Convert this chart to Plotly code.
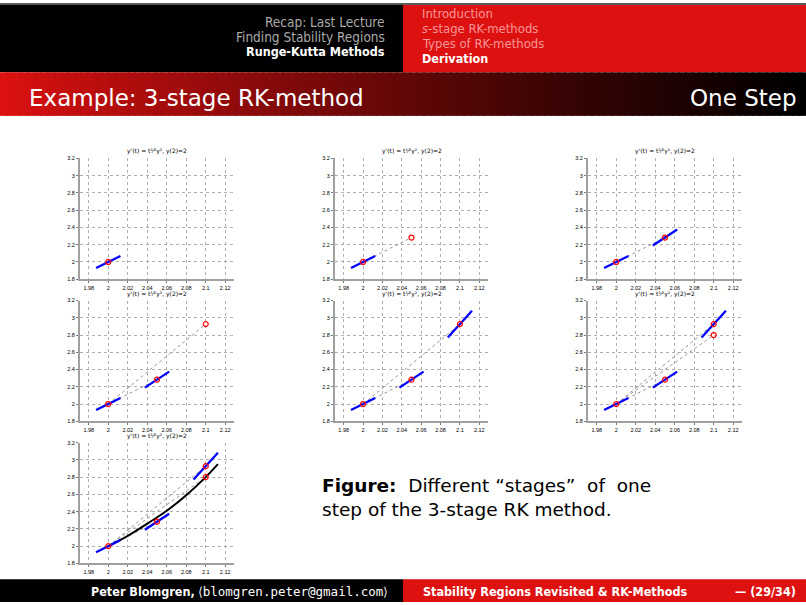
import plotly.graph_objects as go

# ---------------- data ----------------
t_ticks = [1.98, 2.0, 2.02, 2.04, 2.06, 2.08, 2.1, 2.12]
t_tick_text = ["1.98", "2", "2.02", "2.04", "2.06", "2.08", "2.1", "2.12"]
y_ticks = [1.8, 2.0, 2.2, 2.4, 2.6, 2.8, 3.0, 3.2]
y_tick_text = ["1.8", "2", "2.2", "2.4", "2.6", "2.8", "3", "3.2"]

stage_t = [2.0, 2.05, 2.1]
stage_y = [2.0, 2.283, 2.927]
final_t = 2.1
final_y = 2.80

tan1_t = [1.9875, 2.0125]
tan1_y = [1.930, 2.070]
tan2_t = [2.0375, 2.0625]
tan2_y = [2.190, 2.376]
tan3_t = [2.0875, 2.1125]
tan3_y = [2.772, 3.082]

exact_t = [2.0, 2.02, 2.04, 2.06, 2.08, 2.1, 2.1125]
exact_y = [2.0, 2.12, 2.26, 2.41, 2.59, 2.80, 2.95]

panel_title = "y'(t) = t¹⁄²y², y(2)=2"

# ---------------- layout helpers ----------------
W, H = 806, 605
def px(x):
    return x / W
def py(y):
    return 1 - y / H

cols = [(80, 234), (335, 488), (588, 742)]
rows = [(157, 279), (300.5, 422.5), (444, 566)]
slots = [(0, 0), (0, 1), (0, 2), (1, 0), (1, 1), (1, 2), (2, 0)]

RED = "rgb(222,17,17)"

fig = go.Figure()
shapes = []
annotations = []

# header
shapes.append(dict(type="rect", xref="paper", yref="paper", x0=0, x1=px(403), y0=py(70), y1=1,
                   fillcolor="black", line_width=0, layer="below"))
shapes.append(dict(type="rect", xref="paper", yref="paper", x0=px(403), x1=1, y0=py(70), y1=1,
                   fillcolor=RED, line_width=0, layer="below"))
shapes.append(dict(type="rect", xref="paper", yref="paper", x0=0, x1=1, y0=py(2), y1=1,
                   fillcolor="rgb(90,90,90)", line_width=0, layer="below"))
# gradient title bar
N = 120
for i in range(N):
    f = i / (N - 1)
    g = f ** 0.85
    r = int(222 * (1 - g))
    gg = int(17 * (1 - g))
    shapes.append(dict(type="rect", xref="paper", yref="paper",
                       x0=i / N, x1=(i + 1) / N + 0.002, y0=py(114), y1=py(70),
                       fillcolor=f"rgb({r},{gg},{gg})", line_width=0, layer="below"))
# footer
shapes.append(dict(type="rect", xref="paper", yref="paper", x0=0, x1=px(403), y0=0, y1=py(582),
                   fillcolor="black", line_width=0, layer="below"))
shapes.append(dict(type="rect", xref="paper", yref="paper", x0=px(403), x1=1, y0=0, y1=py(582),
                   fillcolor=RED, line_width=0, layer="below"))

HF = "DejaVu Sans Condensed, Liberation Sans Narrow, sans-serif"
def txt(x, y, s, size, color, xanchor="left", family=HF):
    annotations.append(dict(xref="paper", yref="paper", x=px(x), y=py(y), text=s, showarrow=False,
                            xanchor=xanchor, yanchor="middle",
                            font=dict(size=size, color=color, family=family)))

txt(387, 19, "Recap: Last Lecture", 13.5, "rgb(170,170,170)", "right")
txt(387, 34, "Finding Stability Regions", 13.5, "rgb(170,170,170)", "right")
txt(387, 49, "<b>Runge-Kutta Methods</b>", 12.5, "white", "right")
txt(420, 11, "Introduction", 13, "rgb(245,150,150)")
txt(420, 26, "<i>s</i>-stage RK-methods", 13, "rgb(245,150,150)")
txt(420, 41, "Types of RK-methods", 13, "rgb(245,150,150)")
txt(420, 56, "<b>Derivation</b>", 12.5, "white")
txt(27, 96, "Example: 3-stage RK-method", 23, "white", family="DejaVu Sans, sans-serif")
txt(799, 96, "One Step", 23, "white", "right", family="DejaVu Sans, sans-serif")
txt(240, 594, "<b>Peter Blomgren,</b> ⟨<span style='font-family:DejaVu Sans Mono'>blomgren.peter@gmail.com</span>⟩",
    12.5, "white", "center")
txt(421, 594, "<b>Stability Regions Revisited &amp; RK-Methods</b>", 12.5, "white")
txt(798, 594, "<b>— (29/34)</b>", 12.5, "white", "right")

CF = "DejaVu Sans, sans-serif"
txt(320, 487, "<b>Figure:</b>&nbsp;&nbsp;Different&nbsp;“stages”&nbsp; of&nbsp; one", 18.5, "black", family=CF)
txt(320, 512, "step of the 3-stage RK method.", 18.5, "black", family=CF)

# ---------------- panels ----------------
layout_axes = {}
for k, (r, c) in enumerate(slots):
    n = k + 1
    xa = "x" if n == 1 else f"x{n}"
    ya = "y" if n == 1 else f"y{n}"
    xname = "xaxis" if n == 1 else f"xaxis{n}"
    yname = "yaxis" if n == 1 else f"yaxis{n}"
    x0, x1 = cols[c]
    yt, yb = rows[r]
    common = dict(showgrid=True, gridcolor="rgb(175,175,175)", griddash="dot", gridwidth=0.8,
                  showline=True, linecolor="rgb(160,160,160)", linewidth=2,
                  ticks="outside", ticklen=2, tickcolor="rgb(120,120,120)",
                  tickfont=dict(size=5.5, color="black", family="Liberation Sans, sans-serif"),
                  zeroline=False, fixedrange=True)
    layout_axes[xname] = dict(domain=[px(x0), px(x1)], range=[1.971, 2.129], anchor=ya,
                              tickvals=t_ticks, ticktext=t_tick_text, **common)
    layout_axes[yname] = dict(domain=[py(yb), py(yt)], range=[1.8, 3.2], anchor=xa,
                              tickvals=y_ticks, ticktext=y_tick_text, **common)
    annotations.append(dict(xref="paper", yref="paper", x=px((x0 + x1) / 2), y=py(yt - 1),
                            text=panel_title, showarrow=False, xanchor="center", yanchor="bottom",
                            font=dict(size=6, color="black", family="DejaVu Sans, sans-serif")))

    def line(xs, ys, color, width, dash="solid", shape="linear"):
        fig.add_trace(go.Scatter(x=xs, y=ys, mode="lines", xaxis=xa, yaxis=ya, showlegend=False,
                                 line=dict(color=color, width=width, dash=dash, shape=shape),
                                 hoverinfo="skip"))

    grey = "rgb(120,120,120)"
    if n >= 2:
        line([stage_t[0], stage_t[1]], [stage_y[0], stage_y[1]], grey, 0.8, "dot")
    if n >= 4:
        line([stage_t[0], stage_t[2]], [stage_y[0], stage_y[2]], grey, 0.8, "dot")
    if n >= 6:
        line([stage_t[0], final_t], [stage_y[0], final_y], grey, 0.8, "dot")
    if n >= 7:
        line(exact_t, exact_y, "black", 2, "solid", "spline")
    line(tan1_t, tan1_y, "blue", 2.3)
    if n >= 3:
        line(tan2_t, tan2_y, "blue", 2.3)
    if n >= 5:
        line(tan3_t, tan3_y, "blue", 2.3)

    if n == 1:
        mt, my = stage_t[:1], stage_y[:1]
    elif n <= 3:
        mt, my = stage_t[:2], stage_y[:2]
    elif n <= 5:
        mt, my = stage_t[:3], stage_y[:3]
    else:
        mt, my = stage_t[:3] + [final_t], stage_y[:3] + [final_y]
    fig.add_trace(go.Scatter(x=mt, y=my, mode="markers", xaxis=xa, yaxis=ya, showlegend=False,
                             marker=dict(symbol="circle-open", size=5, color="red",
                                         line=dict(color="red", width=1.2)), hoverinfo="skip"))

fig.update_layout(width=W, height=H, margin=dict(l=0, r=0, t=0, b=0),
                  paper_bgcolor="white", plot_bgcolor="white",
                  shapes=shapes, annotations=annotations, showlegend=False, **layout_axes)

fig.write_html("out.html", config={"displayModeBar": False},
               post_script="document.body.style.margin='0';document.body.style.padding='0';"
                           "document.body.style.overflow='hidden';"
                           "document.documentElement.style.overflow='hidden';")
